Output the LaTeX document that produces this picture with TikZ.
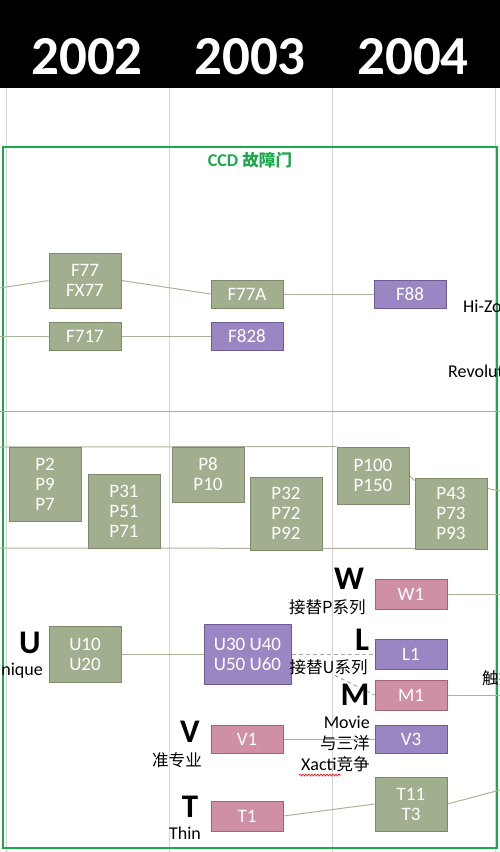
\documentclass[tikz,border=0pt]{standalone}
\usepackage{fontspec}
\setmainfont{Carlito}
\newfontfamily\cjk{Noto Sans CJK SC}[Scale=0.92]
\usetikzlibrary{calc,decorations.pathmorphing}
\definecolor{gfill}{HTML}{A2AF8E}
\definecolor{gline}{HTML}{7E8A6C}
\definecolor{pfill}{HTML}{9A86C2}
\definecolor{pline}{HTML}{6E5C96}
\definecolor{rfill}{HTML}{CF8FA4}
\definecolor{rline}{HTML}{A06478}
\definecolor{conn}{HTML}{A8B49A}
\definecolor{frame}{HTML}{1EA84C}
\definecolor{grid}{HTML}{D4D4D4}
\tikzset{
  box/.style={draw, line width=1pt, minimum width=72pt, inner sep=0pt, align=center,
    text=white, font=\fontsize{19}{20}\selectfont},
  gbox/.style={box, fill=gfill, draw=gline},
  pbox/.style={box, fill=pfill, draw=pline},
  rbox/.style={box, fill=rfill, draw=rline},
  conline/.style={draw=conn, line width=1pt},
  dconline/.style={draw=gray!70, line width=1pt, dash pattern=on 4pt off 3pt},
  year/.style={text=white, font=\fontsize{55}{55}\selectfont\bfseries, inner sep=0pt},
  big/.style={font=\fontsize{33}{33}\selectfont\bfseries, inner sep=0pt},
  lbl/.style={font=\fontsize{18}{21}\selectfont, inner sep=0pt},
}
\begin{document}
\begin{tikzpicture}[x=1pt,y=-1pt]
\useasboundingbox (0,0) rectangle (500,852);
\begin{scope}
\clip (0,0) rectangle (500,852);
% header
\fill[black] (0,0) rectangle (500,88);
\node[year] (y2002) at (87,57) {2002};
\node[year] (y2003) at (250,57) {2003};
\node[year] (y2004) at (413,57) {2004};
% grid
\foreach \gx in {6,169,332,495} \draw[grid, line width=1pt] (\gx,88) -- (\gx,852);
% frame
\draw[frame, line width=2.5pt] (3,147) rectangle (497,848);
\node[text=frame, font=\fontsize{18}{18}\selectfont\bfseries, inner sep=0pt] (ccd) at (250,160) {CCD {\cjk 故障门}};

% coordinates for free ends
\coordinate (eF77) at (0,288);
\coordinate (eF717) at (0,336);
\coordinate (eMidL) at (0,411);
\coordinate (eMidR) at (500,411);
\coordinate (ePtop) at (0,447);
\coordinate (ePbot) at (0,548);
\coordinate (eP43) at (500,491);
\coordinate (eW1) at (500,594);
\coordinate (eM1) at (500,695);
\coordinate (eT11) at (500,790);

% boxes (placed first so anchors exist)
\node[gbox, minimum height=55pt] (F77) at (85,280.5) {F77\\FX77};
\node[gbox, minimum height=28pt] (F77A) at (247,294) {F77A};
\node[pbox, minimum height=28pt] (F88) at (410,294) {F88};
\node[gbox, minimum height=28pt] (F717) at (85,336) {F717};
\node[pbox, minimum height=28pt] (F828) at (247,336) {F828};
\node[gbox, minimum height=74pt] (P2) at (45,484) {P2\\P9\\P7};
\node[gbox, minimum height=74pt] (P31) at (124,511) {P31\\P51\\P71};
\node[gbox, minimum height=55pt] (P8) at (208,474.5) {P8\\P10};
\node[gbox, minimum height=73pt] (P32) at (286,513.5) {P32\\P72\\P92};
\node[gbox, minimum height=57pt] (P100) at (373,475.5) {P100\\P150};
\node[gbox, minimum height=71pt] (P43) at (451,513.5) {P43\\P73\\P93};
\node[gbox, minimum height=56pt] (U10) at (85,654) {U10\\U20};
\node[pbox, minimum height=60pt, minimum width=87pt] (U30) at (247.5,654) {U30 U40\\U50 U60};
\node[rbox, minimum height=30pt] (W1) at (411,594) {W1};
\node[pbox, minimum height=30pt] (L1) at (411,654) {L1};
\node[rbox, minimum height=30pt] (M1) at (411,695) {M1};
\node[rbox, minimum height=28pt] (V1) at (247,739) {V1};
\node[pbox, minimum height=28pt] (V3) at (411,739) {V3};
\node[rbox, minimum height=30pt] (T1) at (247,816) {T1};
\node[gbox, minimum height=54pt] (T11) at (411,804) {T11\\T3};

% connectors
\path[conline] (eF77) -- (F77.west);
\path[conline] (F77.east) -- (F77A.west);
\path[conline] (F77A.east) -- (F88.west);
\path[conline] (eF717) -- (F717.west);
\path[conline] (F717.east) -- (F828.west);
\path[conline] (eMidL) -- (eMidR);
\path[conline] (ePtop) -- (P100.north west);
\path[conline] (P100.east) -- ($(P43.north west)+(0,3)$);
\path[conline] ($(P43.north east)+(0,11)$) -- (eP43);
\path[conline] (ePbot) -- ($(P43.south)+(0,-1)$);
\path[conline] (U10.east) -- (U30.west);
\path[dconline] (U30.east) -- (L1.west);
\path[dconline] ($(U30.east)!0.52!(M1.west)$) -- (M1.west);
\path[conline] (W1.east) -- (eW1);
\path[conline] (M1.east) -- (eM1);
\path[conline] (V1.east) -- (V3.west);
\path[conline] (T1.east) -- (T11.west);
\path[conline] (T11.east) -- (eT11);

% redraw boxes on top of lines
\node[gbox, minimum height=55pt] at (85,280.5) {F77\\FX77};
\node[gbox, minimum height=28pt] at (247,294) {F77A};
\node[pbox, minimum height=28pt] at (410,294) {F88};
\node[gbox, minimum height=28pt] at (85,336) {F717};
\node[pbox, minimum height=28pt] at (247,336) {F828};
\node[gbox, minimum height=74pt] at (45,484) {P2\\P9\\P7};
\node[gbox, minimum height=74pt] at (124,511) {P31\\P51\\P71};
\node[gbox, minimum height=55pt] at (208,474.5) {P8\\P10};
\node[gbox, minimum height=73pt] at (286,513.5) {P32\\P72\\P92};
\node[gbox, minimum height=57pt] at (373,475.5) {P100\\P150};
\node[gbox, minimum height=71pt] at (451,513.5) {P43\\P73\\P93};
\node[gbox, minimum height=56pt] at (85,654) {U10\\U20};
\node[pbox, minimum height=60pt, minimum width=87pt] at (247.5,654) {U30 U40\\U50 U60};
\node[rbox, minimum height=30pt] at (411,594) {W1};
\node[pbox, minimum height=30pt] at (411,654) {L1};
\node[rbox, minimum height=30pt] at (411,695) {M1};
\node[rbox, minimum height=28pt] at (247,739) {V1};
\node[pbox, minimum height=28pt] at (411,739) {V3};
\node[rbox, minimum height=30pt] at (247,816) {T1};
\node[gbox, minimum height=54pt] at (411,804) {T11\\T3};

% labels
\node[lbl, anchor=west] (hizoom) at (463,306) {Hi-Zoom};
\node[lbl, anchor=west] (revol) at (448,371) {Revolution};
\node[big] (Ul) at (30,643) {U};
\node[lbl, anchor=east] (uniq) at (43,671) {Unique};
\node[big] (Wl) at (349,579) {W};
\node[lbl, anchor=east] (wsub) at (366,607) {\cjk 接替P系列};
\node[big] (Ll) at (362,640) {L};
\node[lbl, anchor=east] (lsub) at (368,667) {\cjk 接替U系列};
\node[big] (Ml) at (355,695) {M};
\node[lbl, anchor=west] (touch) at (482,678) {\cjk 触摸屏};
\node[lbl, anchor=east, align=right] (movie) at (370,744) {Movie\\{\cjk 与三洋}\\Xacti{\cjk 竞争}};
\draw[red, line width=0.6pt, decorate, decoration={snake, amplitude=1pt, segment length=3pt}] (299,775) -- (341,775);
\node[big] (Vl) at (190,732) {V};
\node[lbl] (vsub) at (177,760) {\cjk 准专业};
\node[big] (Tl) at (190,807) {T};
\node[lbl] (tsub) at (185,833) {Thin};
\end{scope}
\end{tikzpicture}
\end{document}
